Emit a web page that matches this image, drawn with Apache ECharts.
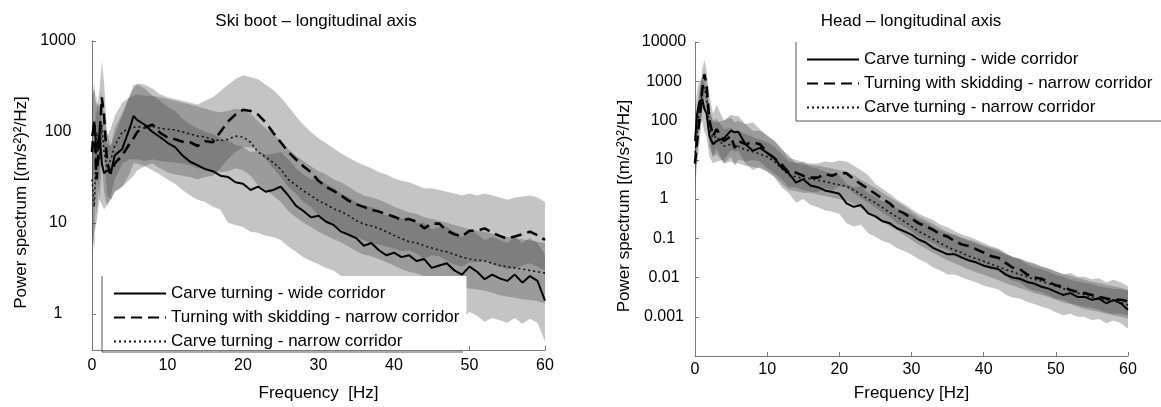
<!DOCTYPE html>
<html>
<head>
<meta charset="UTF-8">
<title>Power spectrum - longitudinal axis</title>
<script src="https://cdn.jsdelivr.net/npm/echarts@6/dist/echarts.min.js"></script>
<style>
  html, body { margin: 0; padding: 0; background: #fff; }
  #main { width: 1161px; height: 407px; }
</style>
</head>
<body>
<div id="main"></div>
<script>
// frequency grid (Hz), shared by every curve
var freq = [0, 0.3, 0.6, 1, 1.3, 1.6, 2, 2.5, 3, 4, 5, 5.5, 6,
  7, 8, 9, 10, 11, 12, 13, 14, 15, 16, 17, 18, 19, 20, 21, 22, 23, 24, 25, 26, 27, 28, 29, 30,
  31, 32, 33, 34, 35, 36, 37, 38, 39, 40, 41, 42, 43, 44, 45, 46, 47, 48, 49, 50,
  51, 52, 53, 54, 55, 56, 57, 58, 59, 60];

var names = ['Carve turning - wide corridor', 'Turning with skidding - narrow corridor', 'Carve turning - narrow corridor'];

// ---- ski boot ----
var bootWide = [90, 130, 60, 100, 45, 35, 38, 35, 55, 65, 110, 150, 135,
  120, 100, 88, 76, 68, 55, 47, 43, 39, 37, 33, 32, 28, 27, 23, 25, 22, 23, 25, 20, 15.5, 13.5, 11.5, 12,
  10.3, 9.5, 8, 7.4, 6.8, 5.6, 6, 5, 4.4, 4.7, 4.2, 4.4, 3.8, 4, 3.2, 3.4, 3.6, 3, 2.7, 3.3,
  2.9, 2.4, 2.7, 2.45, 2.3, 2.7, 2.2, 2.6, 2.3, 1.4];
var bootWideHi = [250, 300, 200, 200, 120, 80, 75, 70, 110, 160, 250, 330, 330,
  300, 250, 220, 190, 170, 140, 120, 110, 100, 95, 85, 80, 72, 68, 60, 62, 56, 58, 60, 50, 40, 34, 30, 30,
  27, 24, 21, 19, 17, 15, 15, 13, 12, 12, 11, 11, 10, 10, 8.5, 9, 9, 8, 7, 8.5,
  7.5, 6.5, 7, 6.5, 6, 7, 6, 6.8, 6, 4.5];
var bootWideLo = [4, 8, 10, 18, 16, 14, 16, 18, 22, 25, 35, 45, 45,
  42, 38, 34, 30, 27, 23, 20, 18, 17, 15, 14, 10, 9.5, 9, 8, 7.8, 7.2, 7, 6.5, 5.5, 4.8, 4.2, 3.8, 3.5,
  3.2, 3, 2.6, 2.4, 2.2, 1.9, 2, 1.7, 1.5, 1.6, 1.4, 1.45, 1.25, 1.3, 1.05, 1.1, 1.15, 1, 0.9, 1.05,
  0.95, 0.82, 0.9, 0.85, 0.8, 0.9, 0.78, 0.88, 0.8, 0.5];

var bootSkid = [60, 130, 30, 90, 240, 150, 45, 35, 45, 55, 75, 85, 100,
  112, 120, 98, 87, 83, 78, 77, 70, 79, 77, 100, 130, 155, 175, 170, 155, 127, 98, 77, 60, 50, 42, 36, 29,
  25, 22.5, 20, 17.5, 16, 15, 14, 13.3, 12.5, 11.7, 10.8, 11, 10.3, 8.7, 9.8, 9.8, 8.2, 7.5, 7.1, 8.2,
  8.2, 8.7, 7.8, 7.2, 6.7, 7.1, 7.5, 8, 7.3, 6.5];
var bootSkidHi = [200, 350, 150, 300, 600, 350, 100, 70, 90, 150, 250, 300, 340,
  330, 300, 260, 240, 230, 220, 210, 200, 220, 240, 280, 330, 380, 420, 400, 380, 330, 290, 240, 190, 150, 120, 100, 85,
  75, 66, 58, 52, 47, 43, 40, 36, 34, 31, 29, 28, 26, 24, 24, 23, 22, 21, 20, 21,
  20, 21, 20, 19, 18, 19, 19.5, 20, 19, 17];
var bootSkidLo = [20, 40, 12, 35, 90, 60, 20, 18, 22, 25, 30, 33, 38,
  42, 45, 40, 36, 34, 33, 32, 30, 32, 33, 40, 50, 60, 68, 68, 62, 50, 40, 32, 25, 21, 17, 15, 12,
  10.5, 9.5, 8.5, 7.5, 7, 6.5, 6, 5.8, 5.5, 5.2, 4.9, 5, 4.6, 4, 4.4, 4.3, 3.8, 3.5, 3.3, 3.7,
  3.7, 3.9, 3.5, 3.3, 3.1, 3.2, 3.4, 3.6, 3.3, 3];

var bootNarrow = [30, 15, 100, 50, 120, 60, 40, 50, 70, 100, 110, 112, 115,
  110, 115, 110, 107, 105, 100, 95, 90, 88, 83, 80, 83, 90, 88, 77, 60, 53, 46, 39, 30, 26, 22.5, 20, 17.5,
  16, 14.3, 13.3, 12, 10.6, 9.7, 9.3, 8.7, 8, 7.3, 6.7, 6.2, 6, 5.6, 5.3, 5, 4.8, 4.5, 4.2, 4,
  3.9, 3.8, 3.6, 3.4, 3.3, 3.2, 3.1, 3, 2.9, 2.8];
var bootNarrowHi = [100, 60, 250, 150, 280, 150, 90, 110, 150, 210, 240, 250, 260,
  250, 250, 240, 230, 220, 210, 200, 190, 180, 170, 165, 170, 180, 175, 160, 130, 110, 95, 80, 65, 55, 48, 42, 37,
  34, 30, 28, 25, 22, 20, 19, 18, 16.5, 15, 14, 13, 12.5, 11.5, 11, 10.5, 10, 9.5, 9, 8.5,
  8.2, 8, 7.6, 7.2, 7, 6.8, 6.6, 6.4, 6.2, 6];
var bootNarrowLo = [8, 5, 35, 18, 45, 22, 15, 20, 30, 45, 50, 50, 50,
  48, 50, 48, 47, 46, 45, 43, 40, 39, 37, 36, 37, 40, 38, 33, 26, 23, 20, 17, 13.5, 11.5, 10, 9, 8,
  7.3, 6.6, 6.1, 5.5, 4.9, 4.5, 4.3, 4, 3.7, 3.4, 3.1, 2.9, 2.8, 2.6, 2.5, 2.35, 2.25, 2.1, 2, 1.9,
  1.85, 1.8, 1.7, 1.6, 1.55, 1.5, 1.45, 1.42, 1.38, 1.3];

// ---- head ----
var headWide = [30, 150, 300, 350, 200, 150, 40, 25, 30, 35, 55, 50, 52,
  25, 17, 20, 15, 11, 6.3, 4.5, 2.6, 3.2, 2.2, 2, 1.65, 1.5, 1.36, 0.77, 0.63, 0.7, 0.43, 0.36, 0.27, 0.24, 0.18, 0.15, 0.124,
  0.093, 0.077, 0.057, 0.047, 0.039, 0.039, 0.032, 0.027, 0.024, 0.02, 0.018, 0.0164, 0.012, 0.01, 0.0093, 0.0077, 0.007, 0.0058, 0.0052, 0.0043,
  0.0036, 0.004, 0.0032, 0.0032, 0.0027, 0.0029, 0.0022, 0.0027, 0.0022, 0.0015];
var headWideHi = [150, 600, 1000, 1200, 800, 500, 150, 90, 90, 100, 140, 130, 130,
  80, 55, 55, 42, 30, 18, 13, 8, 9, 6.5, 6, 5, 4.5, 4, 2.4, 2, 2.1, 1.4, 1.15, 0.85, 0.75, 0.58, 0.48, 0.4,
  0.3, 0.25, 0.19, 0.155, 0.13, 0.125, 0.105, 0.09, 0.08, 0.066, 0.058, 0.052, 0.04, 0.034, 0.031, 0.026, 0.023, 0.019, 0.017, 0.014,
  0.012, 0.013, 0.0105, 0.0105, 0.009, 0.0095, 0.0075, 0.0088, 0.0075, 0.006];
var headWideLo = [4, 30, 80, 100, 50, 40, 12, 8, 9, 10, 18, 16, 17,
  8, 5.5, 6.5, 5, 3.6, 2, 1.4, 0.8, 1, 0.7, 0.62, 0.52, 0.47, 0.42, 0.24, 0.2, 0.22, 0.135, 0.11, 0.085, 0.075, 0.056, 0.047, 0.038,
  0.029, 0.024, 0.018, 0.015, 0.012, 0.012, 0.01, 0.0085, 0.0075, 0.0062, 0.0056, 0.005, 0.0037, 0.0031, 0.0029, 0.0024, 0.0021, 0.0018, 0.0016, 0.0013,
  0.0011, 0.0012, 0.001, 0.001, 0.00082, 0.00088, 0.00068, 0.0008, 0.00068, 0.0005];

var headSkid = [8, 30, 100, 600, 1500, 800, 100, 40, 60, 30, 40, 20, 30,
  25, 28, 25, 15, 11, 7.6, 4.7, 4.7, 3.9, 3.5, 3.5, 4.3, 3.9, 4.7, 4.5, 3.2, 2.4, 1.8, 1.36, 1, 0.77, 0.52, 0.43, 0.32,
  0.24, 0.2, 0.165, 0.124, 0.11, 0.084, 0.069, 0.063, 0.052, 0.043, 0.035, 0.032, 0.024, 0.018, 0.0164, 0.012, 0.01, 0.0093, 0.0077, 0.0063,
  0.0058, 0.0048, 0.0043, 0.004, 0.0036, 0.0032, 0.0029, 0.0027, 0.0027, 0.0025];
var headSkidHi = [40, 150, 400, 2000, 3500, 2000, 400, 150, 250, 100, 120, 90, 100,
  80, 90, 60, 40, 30, 20, 11, 10, 8.5, 8, 8, 9, 8.5, 9.5, 9, 7, 5.5, 4, 2.4, 1.8, 1.35, 0.95, 0.75, 0.56,
  0.42, 0.35, 0.29, 0.22, 0.19, 0.15, 0.125, 0.11, 0.092, 0.076, 0.063, 0.056, 0.043, 0.033, 0.029, 0.022, 0.018, 0.0165, 0.014, 0.0115,
  0.0105, 0.0088, 0.008, 0.0074, 0.0067, 0.006, 0.0055, 0.0051, 0.005, 0.0046];
var headSkidLo = [2, 8, 25, 150, 500, 250, 30, 12, 20, 8, 12, 7, 10,
  9, 10, 9, 6, 4.5, 3.2, 2, 2, 1.7, 1.5, 1.5, 1.9, 1.7, 2.1, 2, 1.4, 1.05, 0.8, 0.6, 0.45, 0.35, 0.24, 0.2, 0.15,
  0.11, 0.092, 0.076, 0.057, 0.05, 0.039, 0.032, 0.029, 0.024, 0.02, 0.016, 0.015, 0.011, 0.0083, 0.0075, 0.0055, 0.0046, 0.0043, 0.0035, 0.0029,
  0.0027, 0.0022, 0.002, 0.0018, 0.0017, 0.0015, 0.0013, 0.0012, 0.0012, 0.0011];

var headNarrow = [15, 50, 200, 500, 700, 400, 60, 35, 40, 22, 25, 22, 22,
  18, 16, 14, 12, 9, 6, 4, 3.7, 3.3, 3.3, 3, 2.8, 2.5, 2.3, 2.1, 1.7, 1.3, 1, 0.8, 0.6, 0.45, 0.35, 0.27, 0.2,
  0.15, 0.12, 0.095, 0.075, 0.06, 0.05, 0.042, 0.035, 0.03, 0.026, 0.022, 0.019, 0.016, 0.014, 0.012, 0.0105, 0.009, 0.008, 0.007, 0.006,
  0.0052, 0.0046, 0.004, 0.0036, 0.0032, 0.003, 0.0027, 0.0025, 0.0023, 0.002];
var headNarrowHi = [60, 200, 600, 1300, 1800, 1000, 200, 100, 110, 60, 65, 55, 55,
  45, 38, 33, 28, 21, 14, 9, 8.5, 7.5, 7.5, 7, 6.5, 6, 5.5, 5, 4, 3.1, 2.4, 1.9, 1.45, 1.1, 0.85, 0.65, 0.48,
  0.36, 0.29, 0.23, 0.18, 0.145, 0.12, 0.1, 0.085, 0.072, 0.062, 0.053, 0.046, 0.039, 0.034, 0.029, 0.025, 0.022, 0.019, 0.017, 0.0145,
  0.0125, 0.011, 0.0097, 0.0087, 0.0078, 0.0072, 0.0065, 0.006, 0.0055, 0.0048];
var headNarrowLo = [4, 12, 60, 180, 280, 150, 20, 12, 14, 8, 9, 8, 8,
  7, 6.5, 6, 5, 3.8, 2.5, 1.7, 1.6, 1.45, 1.45, 1.3, 1.2, 1.1, 1, 0.9, 0.75, 0.58, 0.45, 0.36, 0.27, 0.2, 0.16, 0.12, 0.09,
  0.068, 0.054, 0.043, 0.034, 0.027, 0.023, 0.019, 0.016, 0.0135, 0.0117, 0.01, 0.0086, 0.0072, 0.0063, 0.0054, 0.0047, 0.004, 0.0036, 0.0032, 0.0027,
  0.0023, 0.0021, 0.0018, 0.0016, 0.00145, 0.00135, 0.0012, 0.0011, 0.001, 0.0009];

var font = "'Liberation Sans', Arial, sans-serif";
var axisGray = '#7a7a7a';
var bandFill = 'rgba(60,60,60,0.3)';

// shaded +/- band, drawn as one polygon through the axis scales
function band(g, lo, hi) {
  return {
    type: 'custom', xAxisIndex: g, yAxisIndex: g, clip: true, silent: true, z: 1,
    data: freq.map(function (f, i) { return [f, lo[i], hi[i]]; }),
    renderItem: function (params, api) {
      if (params.dataIndex !== 0) return null;
      var pts = [];
      for (var i = 0; i < freq.length; i++) pts.push(api.coord([freq[i], hi[i]]));
      for (var j = freq.length - 1; j >= 0; j--) pts.push(api.coord([freq[j], lo[j]]));
      return { type: 'polygon', shape: { points: pts }, style: { fill: bandFill } };
    }
  };
}

var styles = [
  { color: '#000', width: 2, type: 'solid' },
  { color: '#000', width: 2.6, type: [11, 6] },
  { color: '#111', width: 1.6, type: [2, 3] }
];

function line(g, k, vals) {
  return {
    type: 'line', name: names[k], xAxisIndex: g, yAxisIndex: g,
    data: freq.map(function (f, i) { return [f, vals[i]]; }),
    symbol: 'none', showSymbol: false, z: 3, clip: true,
    lineStyle: styles[k], itemStyle: { color: styles[k].color }
  };
}

function xAx(g, gap, margin) {
  return {
    gridIndex: g, type: 'value', min: 0, max: 60, interval: 10,
    name: g === 0 ? 'Frequency  [Hz]' : 'Frequency [Hz]', nameLocation: 'middle', nameGap: gap,
    nameTextStyle: { fontSize: 17, color: '#000', fontFamily: font },
    axisLine: { lineStyle: { color: axisGray } },
    axisTick: { inside: true, length: 4, lineStyle: { color: axisGray } },
    axisLabel: { fontSize: 16, color: '#000', margin: margin, fontFamily: font },
    splitLine: { show: false }
  };
}

function yAx(g, min, max, margin) {
  return {
    gridIndex: g, type: 'log', logBase: 10, min: min, max: max,
    name: 'Power spectrum [(m/s²)²/Hz]', nameLocation: 'middle', nameGap: 62, nameRotate: 90,
    nameTextStyle: { fontSize: 17, color: '#000', fontFamily: font, padding: [0, 14, 0, 0] },
    axisLine: { show: true, lineStyle: { color: axisGray } },
    axisTick: { show: true, inside: true, length: 4, lineStyle: { color: axisGray } },
    axisLabel: {
      fontSize: 16, color: '#000', margin: margin, align: 'center', fontFamily: font,
      showMinLabel: false,
      formatter: function (v) { return String(+Number(v).toPrecision(3)); }
    },
    splitLine: { show: false }
  };
}

function legendAt(left, top, padding) {
  return {
    data: names, orient: 'vertical', left: left, top: top, padding: padding,
    itemGap: 7, itemWidth: 52, itemHeight: 14, backgroundColor: '#fff', borderWidth: 0,
    selectedMode: false, itemStyle: { opacity: 0 },
    textStyle: { fontSize: 17, color: '#000', fontFamily: font }
  };
}

var chart = echarts.init(document.getElementById('main'), null, { renderer: 'canvas' });

chart.setOption({
  animation: false,
  backgroundColor: '#fff',
  textStyle: { fontFamily: font },
  title: [
    { text: 'Ski boot – longitudinal axis', left: 316, top: 13, textAlign: 'center', padding: 0,
      textStyle: { fontSize: 17, fontWeight: 'normal', color: '#000', fontFamily: font } },
    { text: 'Head – longitudinal axis', left: 911, top: 13, textAlign: 'center', padding: 0,
      textStyle: { fontSize: 17, fontWeight: 'normal', color: '#000', fontFamily: font } }
  ],
  grid: [
    { left: 92, top: 41, width: 453, height: 311 },
    { left: 695, top: 42, width: 433, height: 319 }
  ],
  xAxis: [xAx(0, 35, 8), xAx(1, 29, 6)],
  yAxis: [yAx(0, 0.4, 1000, 34), yAx(1, 0.0001, 10000, 31)],
  legend: [
    legendAt(102, 276, [9, 7, 0, 11]),
    legendAt(796, 42, [9, 40, 3, 10])
  ],
  graphic: [
    { type: 'polyline', z: 100, shape: { points: [[102, 276], [102, 352], [463, 352]] },
      style: { stroke: '#555', lineWidth: 1, fill: null } },
    { type: 'polyline', z: 100, shape: { points: [[796, 42], [796, 121], [1161, 121]] },
      style: { stroke: '#555', lineWidth: 1, fill: null } }
  ],
  series: [
    band(0, bootWideLo, bootWideHi),
    band(0, bootSkidLo, bootSkidHi),
    band(0, bootNarrowLo, bootNarrowHi),
    line(0, 0, bootWide),
    line(0, 1, bootSkid),
    line(0, 2, bootNarrow),
    band(1, headWideLo, headWideHi),
    band(1, headSkidLo, headSkidHi),
    band(1, headNarrowLo, headNarrowHi),
    line(1, 0, headWide),
    line(1, 1, headSkid),
    line(1, 2, headNarrow)
  ]
});
</script>
</body>
</html>
